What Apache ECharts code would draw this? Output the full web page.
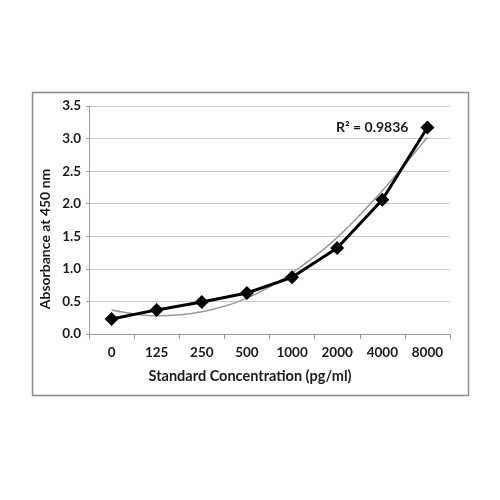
<!DOCTYPE html>
<html><head><meta charset="utf-8">
<script src="https://cdn.jsdelivr.net/npm/echarts@6/dist/echarts.min.js"></script>
<style>html,body{margin:0;padding:0;background:#fff}#c{width:500px;height:500px}</style>
</head><body><div id="c"></div>
<script>
var categories = ['0','125','250','500','1000','2000','4000','8000'];
var absorbance = [0.23,0.37,0.49,0.63,0.87,1.32,2.06,3.17];
var trendline = [0.37,0.28,0.34,0.55,0.94,1.48,2.20,3.02];
var yTicks = [0,0.5,1,1.5,2,2.5,3,3.5];
var r2Text = 'R\u00B2 = 0.9836';
var yTitle = 'Absorbance at 450 nm';
var xTitle = 'Standard Concentration (pg/ml)';

var FONT = 'Lato';
var chart = echarts.init(document.getElementById('c'), null, {renderer:'canvas'});
chart.setOption({
  animation:false,
  backgroundColor:'#fff',
  grid:{left:89,right:50,top:106,bottom:166,containLabel:false},
  graphic:[
    {type:'rect',left:30,top:90,shape:{width:436,height:303},style:{fill:'none',stroke:'#8a8a8a',lineWidth:1.5},z:-1},
    {type:'text',x:45,y:239,rotation:Math.PI/2,style:{text:yTitle,font:'bold 14px '+FONT,fill:'#1a1a1a',align:'center',verticalAlign:'middle'}},
    {type:'text',x:250,y:376,style:{text:xTitle,font:'bold 14.5px '+FONT,fill:'#1a1a1a',align:'center',verticalAlign:'middle'}}
  ],
  xAxis:{
    type:'category',data:categories,boundaryGap:true,
    axisLine:{lineStyle:{color:'#9a9a9a',width:1}},
    axisTick:{show:true,length:5,lineStyle:{color:'#9a9a9a'}},
    axisLabel:{margin:12,color:'#1a1a1a',fontFamily:FONT,fontWeight:'bold',fontSize:13.5},
    splitLine:{show:false}
  },
  yAxis:{
    type:'value',min:0,max:3.5,interval:0.5,
    axisLine:{show:true,lineStyle:{color:'#9a9a9a',width:1}},
    axisTick:{show:true,length:3,lineStyle:{color:'#9a9a9a'}},
    axisLabel:{margin:8,color:'#1a1a1a',fontFamily:FONT,fontWeight:'bold',fontSize:13.5,
      formatter:function(v){return v.toFixed(1);}},
    splitLine:{show:true,lineStyle:{color:'#c8c8c8',width:1}}
  },
  series:[
    {type:'line',data:trendline,smooth:0.35,symbol:'none',
      lineStyle:{color:'#999999',width:1.5},z:2},
    {type:'line',data:absorbance.map(function(v,i){
        if(i===absorbance.length-1){
          return {value:v,label:{show:true,position:'left',distance:12,formatter:r2Text,
            color:'#1a1a1a',fontFamily:FONT,fontWeight:'bold',fontSize:14}};
        }
        return v;
      }),
      symbol:'diamond',symbolSize:14,
      itemStyle:{color:'#000'},
      lineStyle:{color:'#000',width:3},z:3}
  ]
});
</script></body></html>
